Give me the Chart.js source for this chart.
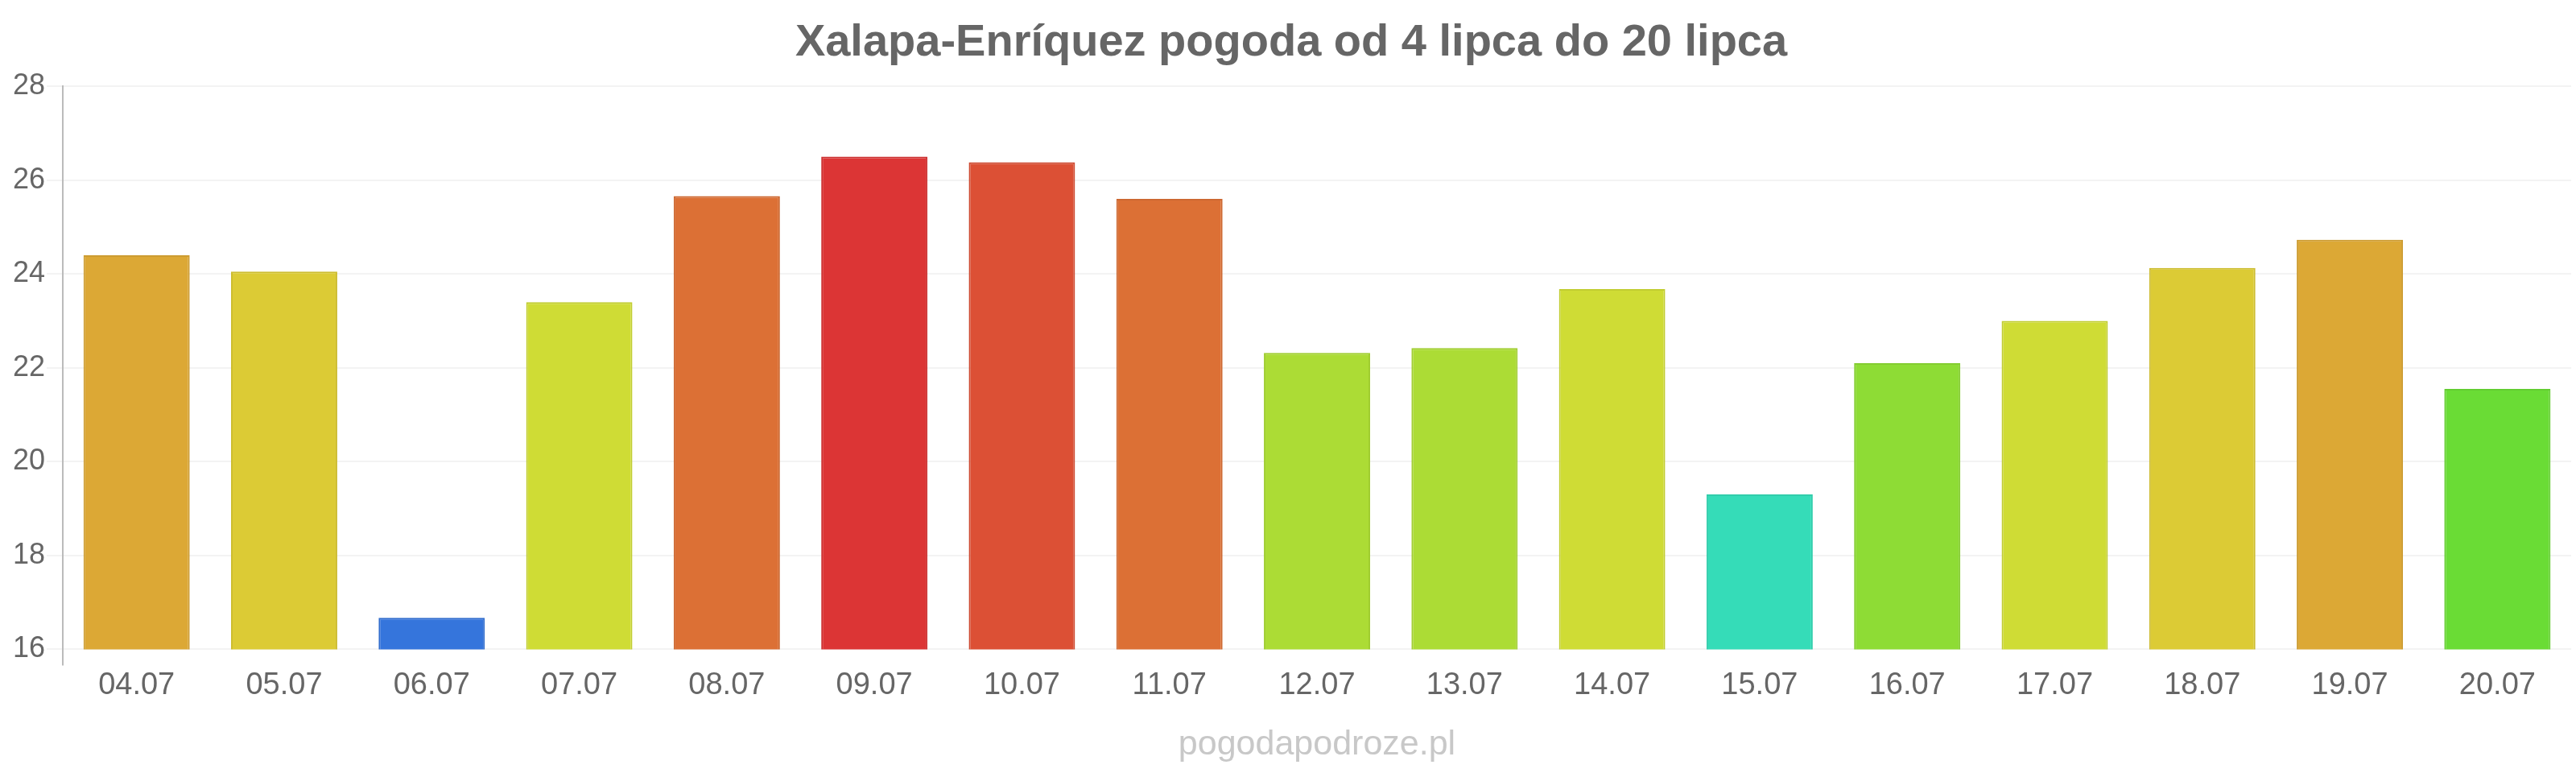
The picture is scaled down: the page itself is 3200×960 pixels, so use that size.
<!DOCTYPE html>
<html>
<head>
<meta charset="utf-8">
<script src="https://cdn.jsdelivr.net/npm/chart.js@4"></script>
<style>
  html, body { margin: 0; padding: 0; background: #fff; }
  #wrap { width: 3200px; height: 960px; }
</style>
</head>
<body>
<div id="wrap"><canvas id="chart" width="3200" height="960"></canvas></div>
<script>
// -----------------------------
// Data
// -----------------------------
const days = ["04.07", "05.07", "06.07", "07.07", "08.07", "09.07", "10.07", "11.07", "12.07",
              "13.07", "14.07", "15.07", "16.07", "17.07", "18.07", "19.07", "20.07"];
const temps = [24.4, 24.05, 16.67, 23.4, 25.66, 26.5, 26.38, 25.6, 22.32,
               22.42, 23.68, 19.3, 22.1, 23.0, 24.13, 24.73, 21.55];
const barColors = ["#dca835", "#dccb35", "#3575dc", "#cfdc35", "#dc7035", "#dc3535", "#dc5035", "#dc7035", "#acdc35",
                   "#acdc35", "#cfdc35", "#35dcb8", "#8edc35", "#cfdc35", "#dccb35", "#dca835", "#6adc35"];
const yTicks = [16, 18, 20, 22, 24, 26, 28];

const titleText = "Xalapa-Enríquez pogoda od 4 lipca do 20 lipca";
const watermark = "pogodapodroze.pl";
const FONT = "'Liberation Sans', Arial, sans-serif";

// darker edge for each bar
function darken(hex, f) {
    const n = parseInt(hex.slice(1), 16);
    const r = Math.round(((n >> 16) & 255) * f);
    const g = Math.round(((n >> 8) & 255) * f);
    const b = Math.round((n & 255) * f);
    return `rgb(${r},${g},${b})`;
}

// -----------------------------
// Watermark under the axis
// -----------------------------
const watermarkPlugin = {
    id: "watermark",
    afterDraw(chart) {
        const { ctx, chartArea } = chart;
        ctx.save();
        ctx.font = `43px ${FONT}`;
        ctx.fillStyle = "#c8c8c8";
        ctx.textAlign = "center";
        ctx.textBaseline = "middle";
        ctx.fillText(watermark, (chartArea.left + chartArea.right) / 2, 925);
        ctx.restore();
    }
};

const ctx = document.getElementById("chart").getContext("2d");
new Chart(ctx, {
    type: "bar",
    data: {
        labels: days,
        datasets: [{
            data: temps,
            backgroundColor: barColors,
            borderColor: barColors.map(c => darken(c, 0.93)),
            borderWidth: 2
        }]
    },
    options: {
        responsive: false,
        animation: false,
        layout: { padding: { left: 14, right: 6, top: 0, bottom: 84 } },
        plugins: {
            legend: { display: false },
            tooltip: { enabled: false },
            title: {
                display: true,
                text: titleText,
                color: "#666",
                font: { family: FONT, size: 56, weight: "bold" },
                padding: { top: 20, bottom: 20 }
            }
        },
        scales: {
            x: {
                grid: {
                    drawOnChartArea: false,
                    tickLength: 20,
                    color: c => c.index === 0 ? "#bbb" : "rgba(0,0,0,0)",
                    lineWidth: 2
                },
                border: { display: false },
                ticks: { color: "#666", font: { family: FONT, size: 38 }, padding: 2 }
            },
            y: {
                min: yTicks[0],
                max: yTicks[yTicks.length - 1],
                afterBuildTicks: axis => { axis.ticks = yTicks.map(v => ({ value: v })); },
                grid: { color: "#f3f3f3", lineWidth: 2, tickLength: 20 },
                border: { color: "#bbb", width: 2 },
                ticks: { color: "#666", font: { family: FONT, size: 36 }, padding: 2 }
            }
        }
    },
    plugins: [watermarkPlugin]
});
</script>
</body>
</html>
